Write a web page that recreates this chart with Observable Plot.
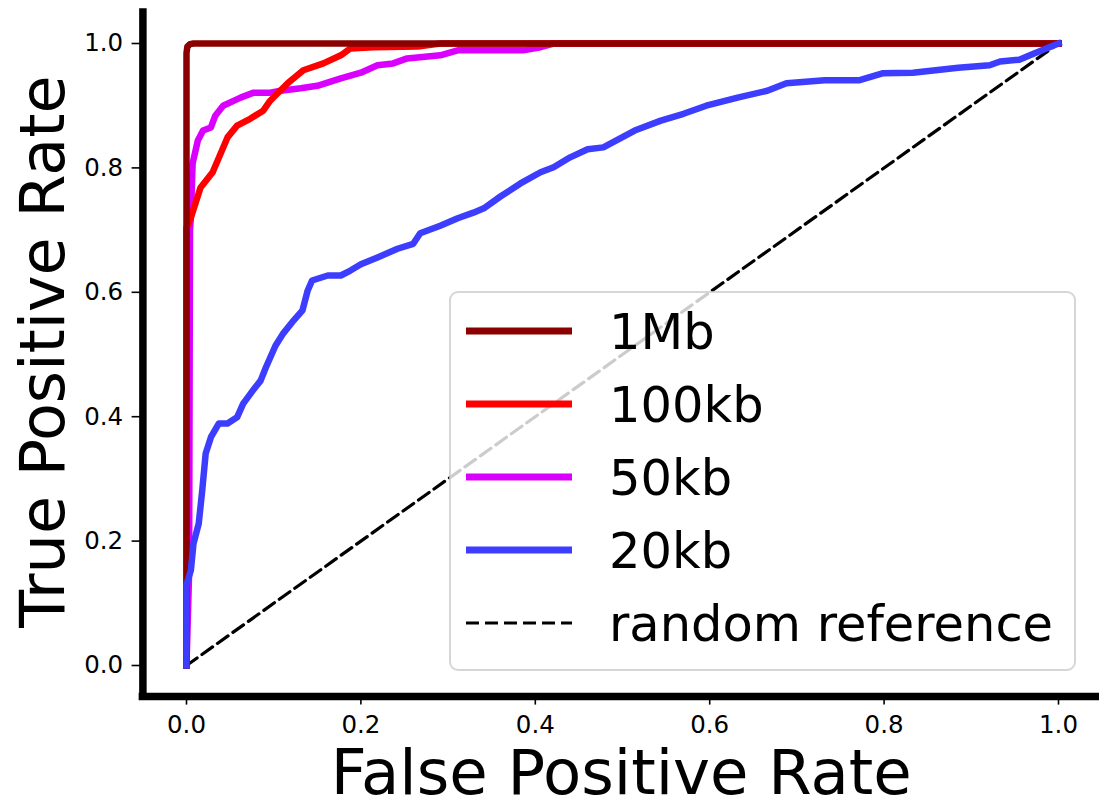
<!DOCTYPE html>
<html>
<head>
<meta charset="utf-8">
<script src="https://cdn.jsdelivr.net/npm/d3@7"></script>
<script src="https://cdn.jsdelivr.net/npm/@observablehq/plot@0.6"></script>
<style>
  body { margin: 0; background: white; }
  #wrap { position: relative; width: 1099px; height: 803px; overflow: hidden; background: white; }
  #wrap svg { font-family: "DejaVu Sans", sans-serif; }
  #legend { position: absolute; left: 0; top: 0; }
</style>
</head>
<body>
<div id="wrap"></div>
<script>
// ROC curves for contact-map classifiers at four resolutions
const seriesNames = ["1Mb", "100kb", "50kb", "20kb"];
const seriesColors = ["#8b0000", "#ff0000", "#d900ff", "#3d3dff"];

const fpr1Mb = [0, 0, 0.001, 0.004, 0.008, 1];
const tpr1Mb = [0, 0.985, 0.995, 0.999, 1, 1];

const fpr100kb = [0, 0, 0.005, 0.016, 0.030, 0.047, 0.058, 0.073, 0.088, 0.096, 0.116, 0.134, 0.157, 0.177, 0.188, 0.214, 0.265, 0.291, 1];
const tpr100kb = [0, 0.704, 0.720, 0.768, 0.793, 0.849, 0.868, 0.879, 0.892, 0.908, 0.936, 0.957, 0.968, 0.981, 0.992, 0.994, 0.995, 1, 1];

const fpr50kb = [0, 0.003, 0.004, 0.005, 0.007, 0.013, 0.019, 0.028, 0.033, 0.042, 0.062, 0.077, 0.096, 0.108, 0.131, 0.150, 0.177, 0.200, 0.219, 0.237, 0.253, 0.291, 0.311, 0.386, 0.406, 0.421, 1];
const tpr50kb = [0, 0.15, 0.70, 0.72, 0.807, 0.844, 0.860, 0.865, 0.884, 0.900, 0.913, 0.921, 0.921, 0.924, 0.928, 0.932, 0.944, 0.953, 0.965, 0.968, 0.976, 0.981, 0.989, 0.989, 0.994, 1, 1];

const fpr20kb = [0, 0, 0.005, 0.008, 0.014, 0.018, 0.022, 0.028, 0.037, 0.047, 0.058, 0.065, 0.076, 0.085, 0.091, 0.102, 0.111, 0.123, 0.133, 0.139, 0.144, 0.162, 0.177, 0.188, 0.200, 0.219, 0.242, 0.260, 0.268, 0.291, 0.311, 0.329, 0.341, 0.360, 0.383, 0.406, 0.421, 0.440, 0.460, 0.478, 0.514, 0.544, 0.570, 0.596, 0.632, 0.666, 0.688, 0.732, 0.772, 0.798, 0.833, 0.885, 0.921, 0.933, 0.955, 0.972, 1];
const tpr20kb = [0, 0.13, 0.153, 0.196, 0.228, 0.281, 0.341, 0.367, 0.389, 0.389, 0.399, 0.421, 0.442, 0.458, 0.479, 0.514, 0.534, 0.555, 0.571, 0.603, 0.619, 0.627, 0.627, 0.635, 0.645, 0.656, 0.670, 0.678, 0.695, 0.707, 0.719, 0.728, 0.735, 0.754, 0.775, 0.793, 0.801, 0.817, 0.830, 0.833, 0.860, 0.876, 0.887, 0.900, 0.913, 0.924, 0.936, 0.941, 0.941, 0.952, 0.953, 0.961, 0.965, 0.971, 0.974, 0.984, 1];

const randomFpr = [0, 1];
const randomTpr = [0, 1];
const randomName = "random reference";

const xTicks = [0, 0.2, 0.4, 0.6, 0.8, 1.0];
const yTicks = [0, 0.2, 0.4, 0.6, 0.8, 1.0];
const xLabel = "False Positive Rate";
const yLabel = "True Positive Rate";

const toRows = (fpr, tpr) => fpr.map((f, i) => ({fpr: f, tpr: tpr[i]}));
const curves = [
  toRows(fpr1Mb, tpr1Mb),
  toRows(fpr100kb, tpr100kb),
  toRows(fpr50kb, tpr50kb),
  toRows(fpr20kb, tpr20kb)
];
const randomRows = toRows(randomFpr, randomTpr);

const W = 1099, H = 803;
const mL = 142.4, mT = 11.9, mB = 106.9;
const lineW = 6.5;
const fontFamily = "DejaVu Sans";

const curveMark = (i) => Plot.line(curves[i], {
  x: "fpr", y: "tpr", stroke: seriesColors[i], strokeWidth: lineW,
  strokeLinejoin: "round", strokeLinecap: "square"
});

const chart = Plot.plot({
  width: W,
  height: H,
  marginLeft: mL,
  marginTop: mT,
  marginBottom: mB,
  marginRight: 0,
  style: {fontFamily, background: "white", overflow: "visible", color: "black"},
  x: {domain: [-0.05, 1.05], range: [mL, 1101.6], label: null},
  y: {domain: [-0.05, 1.05], label: null},
  marks: [
    curveMark(2),
    curveMark(1),
    curveMark(0),
    Plot.line(randomRows, {x: "fpr", y: "tpr", stroke: "black", strokeWidth: 3.2, strokeDasharray: "13,6"}),
    curveMark(3),
    Plot.axisX({ticks: xTicks, tickFormat: d3.format(".1f"), tickSize: 8.5, tickPadding: 10.4,
      fontSize: 24.5, strokeWidth: 1.6, label: null}),
    Plot.axisY({ticks: yTicks, tickFormat: d3.format(".1f"), tickSize: 10.8, tickPadding: 9,
      fontSize: 24.5, strokeWidth: 1.6, label: null}),
    // thick left and bottom spines
    Plot.ruleX([-0.05], {y1: -0.05, y2: 1.05, stroke: "black", strokeWidth: 7.5, strokeLinecap: "square"}),
    Plot.ruleY([-0.05], {x1: -0.05, x2: 1.05, stroke: "black", strokeWidth: 7.5, strokeLinecap: "square"}),
    Plot.text([xLabel], {frameAnchor: "bottom", textAnchor: "middle", lineAnchor: "top", dy: 53, fontSize: 62.5, fill: "black"}),
    Plot.text([yLabel], {frameAnchor: "left", textAnchor: "middle", rotate: -90, lineAnchor: "middle", dx: -99, dy: -3, fontSize: 62, fill: "black"})
  ]
});

const wrap = document.getElementById("wrap");
wrap.appendChild(chart);

// Legend box drawn over the plot, semi-transparent like a framed legend
const legendItems = seriesNames.map((name, i) => ({name, color: seriesColors[i], dashed: false}))
  .concat([{name: randomName, color: "black", dashed: true}]);

const box = {x: 450, y: 292, w: 625, h: 378};
const rowY0 = 331, rowStep = 73;
const legend = d3.select(wrap).append("svg")
  .attr("id", "legend")
  .attr("width", W).attr("height", H)
  .style("font-family", fontFamily);

legend.append("rect")
  .attr("x", box.x).attr("y", box.y).attr("width", box.w).attr("height", box.h)
  .attr("rx", 8).attr("ry", 8)
  .attr("fill", "white").attr("fill-opacity", 0.8)
  .attr("stroke", "#cccccc").attr("stroke-opacity", 0.8).attr("stroke-width", 2);

const rows = legend.selectAll("g.item").data(legendItems).join("g")
  .attr("class", "item")
  .attr("transform", (d, i) => `translate(0,${rowY0 + i * rowStep})`);

rows.append("line")
  .attr("x1", 466).attr("x2", 572).attr("y1", 0).attr("y2", 0)
  .attr("stroke", d => d.color)
  .attr("stroke-width", d => d.dashed ? 3.2 : 7)
  .attr("stroke-dasharray", d => d.dashed ? "13,6" : null);

rows.append("text")
  .attr("x", 609).attr("y", 17.5)
  .attr("font-size", 49.5)
  .attr("fill", "black")
  .text(d => d.name);
</script>
</body>
</html>
